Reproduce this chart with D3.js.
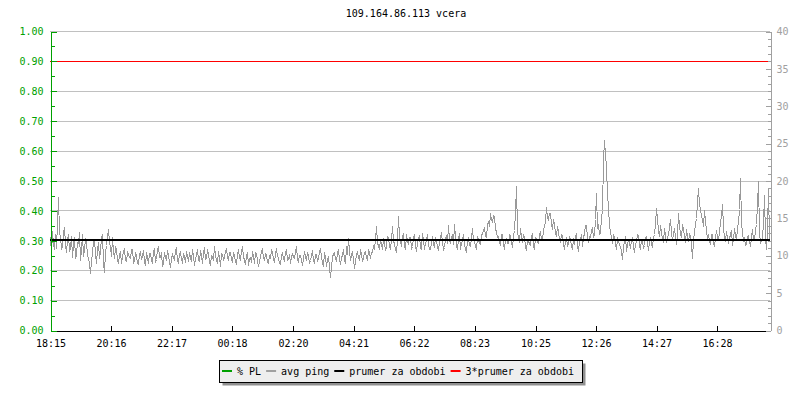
<!DOCTYPE html>
<html><head><meta charset="utf-8">
<script src="https://cdn.jsdelivr.net/npm/d3@7"></script>
<style>
body{margin:0;background:#fff}
svg text{font-family:"DejaVu Sans Mono",monospace;font-size:10px}
</style>
</head><body>
<svg id="chart" width="800" height="400"></svg>
<script>
const title = "109.164.86.113 vcera";
const timeTickMinutes = [0,121,242,363,485,606,727,848,970,1091,1212,1333];
const timeTickLabels = ["18:15","20:16","22:17","00:18","02:20","04:21","06:22","08:23","10:25","12:26","14:27","16:28"];
const totalMinutes = 1440;
const stepMinutes = 2;
const plTicks = [0,0.1,0.2,0.3,0.4,0.5,0.6,0.7,0.8,0.9,1.0];
const pingTicks = [0,5,10,15,20,25,30,35,40];
const meanPing = 12;
const tripleMeanPing = 36;
const legendLabels = ["% PL","avg ping","prumer za obdobi","3*prumer za obdobi"];
const legendColors = ["#00a000","#a0a0a0","#000000","#ff0000"];
const avgPing = [
12.5,10.2,13.2,11.6,10.8,12.9,11.0,14.4,17.8,13.1,12.6,10.9,11.2,13.0,13.8,11.5,10.4,12.2,12.9,10.6,
11.0,12.6,9.8,11.4,12.4,9.6,10.2,11.8,11.6,13.1,9.4,10.7,12.8,9.9,10.8,12.3,11.9,10.1,9.6,8.9,
7.6,9.2,10.4,11.8,12.2,10.3,9.0,10.8,11.8,9.6,10.6,12.4,12.9,9.1,7.8,10.5,11.4,12.6,13.5,11.8,
11.2,9.9,12.4,10.6,9.6,11.1,10.8,9.3,9.0,10.2,10.4,8.9,9.8,10.6,10.9,9.4,9.2,10.5,10.2,9.7,
9.6,10.9,10.8,9.1,9.4,10.3,10.1,8.9,8.8,10.2,10.6,9.5,9.9,10.7,9.2,8.7,10.4,9.8,9.0,10.3,
10.3,9.4,9.1,10.6,10.8,9.2,9.5,10.9,11.2,9.8,9.7,10.4,8.6,9.1,10.5,9.9,9.3,10.7,10.0,9.2,
8.4,9.6,10.2,9.8,9.5,10.7,11.0,9.3,9.1,10.2,10.4,9.6,8.9,10.3,9.9,9.1,10.6,9.9,9.2,10.5,
9.8,9.2,10.9,10.1,8.7,9.6,10.1,10.8,9.4,9.2,10.7,9.9,9.0,10.4,11.1,9.5,9.6,10.8,10.3,9.1,
8.8,10.1,9.9,9.4,11.3,10.2,9.4,8.9,10.6,9.8,8.6,10.3,10.2,9.5,9.7,10.6,11.0,9.9,9.3,10.4,
10.5,9.6,9.1,10.4,10.0,9.2,8.9,10.1,10.8,9.7,9.5,10.6,11.2,9.9,9.3,8.8,10.1,10.5,8.7,9.6,
9.8,9.1,10.6,9.9,9.0,10.5,10.3,9.4,8.5,9.2,9.9,10.6,10.9,9.7,9.4,10.3,10.2,9.1,8.9,10.0,
9.6,10.7,10.4,9.5,9.1,10.2,11.0,9.9,9.7,9.0,8.8,10.1,10.5,9.6,9.3,10.4,10.8,9.4,9.5,10.2,
8.9,9.7,10.3,9.8,9.6,10.5,11.2,9.5,9.2,10.1,10.0,9.3,8.7,9.6,10.6,9.9,9.4,10.4,10.1,9.0,
9.3,9.9,10.7,9.4,8.9,10.2,10.2,9.3,9.6,10.6,11.0,9.7,9.1,8.6,10.4,9.8,8.6,9.4,9.9,8.4,
7.1,8.6,9.8,10.3,10.5,9.6,9.2,10.4,10.9,9.5,8.8,9.7,10.1,10.8,9.5,8.9,11.3,10.2,12.3,10.6,
9.4,10.1,10.6,9.5,8.3,9.2,10.0,10.6,9.7,9.3,10.8,10.2,9.2,9.8,10.4,10.6,9.8,9.4,10.9,10.3,
9.6,10.4,10.5,11.2,11.0,12.1,13.9,11.6,11.4,10.8,12.2,11.5,10.9,12.3,11.8,10.7,11.2,12.6,12.4,11.3,
11.0,12.2,13.9,11.9,11.6,10.8,10.5,12.1,15.2,12.4,11.9,11.2,12.6,13.0,11.3,10.9,12.8,11.9,11.7,12.5,
12.4,11.0,11.2,12.3,12.9,11.4,10.6,11.8,12.2,12.7,11.0,10.8,13.0,12.1,10.8,11.6,12.1,12.9,11.5,10.9,
10.9,11.8,12.6,11.5,11.3,12.4,12.0,11.2,10.7,11.9,12.4,13.1,11.8,10.9,11.1,12.3,12.7,11.6,14.0,12.2,
11.6,12.4,12.8,11.5,14.2,12.6,11.4,10.9,12.3,13.0,10.9,11.7,12.1,12.8,11.7,10.8,10.6,11.9,12.5,11.4,
11.3,12.4,13.6,12.1,11.9,11.2,10.8,12.6,12.2,11.7,11.5,12.9,12.9,13.4,13.8,12.6,12.4,14.0,14.6,13.9,
15.6,14.8,14.4,15.4,15.2,13.6,13.1,12.4,12.6,11.8,11.4,12.9,12.8,11.6,10.9,12.2,12.3,11.7,11.6,12.8,
12.7,11.9,11.1,12.6,13.4,15.8,19.3,13.4,12.2,11.8,13.6,12.4,11.8,12.9,12.5,11.3,10.7,12.1,12.0,11.5,
11.4,12.6,12.8,11.2,10.9,12.5,12.3,11.8,11.7,12.9,13.2,12.1,12.0,13.5,13.9,14.6,16.5,15.1,14.8,15.6,
15.6,14.3,13.5,14.8,14.2,13.1,12.6,13.9,13.3,12.2,11.9,12.8,12.7,11.6,10.8,12.1,12.4,11.3,11.6,12.5,
12.2,11.4,10.9,12.3,11.5,12.6,12.8,11.2,10.6,11.9,12.1,12.9,11.3,12.4,13.0,14.0,14.0,12.3,11.8,12.6,
12.5,13.2,13.8,12.4,12.9,14.8,18.3,13.6,14.2,12.8,13.0,15.1,16.0,22.8,25.4,23.6,22.0,18.2,16.4,14.1,
13.2,12.4,11.6,12.9,12.4,11.5,10.8,12.3,12.1,11.4,11.3,10.6,9.5,11.2,11.9,12.6,10.6,11.4,12.2,11.7,
11.0,12.1,12.5,11.2,10.4,11.6,11.8,12.9,12.7,11.3,10.9,12.2,12.0,11.0,11.4,12.4,12.6,11.8,10.7,11.9,
12.3,11.6,11.1,12.4,12.9,14.2,16.3,14.8,13.4,12.6,14.1,13.2,12.2,11.9,13.6,12.8,11.8,12.5,12.9,13.8,
14.9,13.1,12.1,12.8,13.7,12.6,11.5,12.9,15.6,14.1,13.0,12.4,14.2,13.6,12.4,11.8,13.5,12.7,11.9,12.8,
12.6,11.4,9.6,12.2,13.1,14.2,15.0,17.2,19.0,16.8,16.2,15.4,14.8,13.9,16.0,14.6,13.4,12.2,12.8,11.9,
11.7,12.8,12.9,11.6,11.2,12.4,13.4,12.6,12.0,13.1,14.6,15.3,16.9,13.8,12.5,11.9,13.3,12.4,11.6,12.3,
12.8,13.4,11.4,12.2,13.6,12.9,12.1,13.8,14.4,16.2,20.3,14.6,13.0,12.1,12.3,11.4,11.5,12.6,12.7,11.9,
11.2,12.4,13.5,12.1,12.0,13.4,14.2,16.8,20.0,13.1,11.6,12.2,12.3,14.5,18.0,12.4,10.9,13.6,19.0,12.1
];

const svg = d3.select("#chart");
const L = 50, R = 770, T = 31, B = 330;
const x = d3.scaleLinear().domain([0, totalMinutes]).range([L, R]);
const yL = d3.scaleLinear().domain([0, 1]).range([B, T]);
const yR = d3.scaleLinear().domain([0, 40]).range([B, T]);
const px = v => Math.round(v) + 0.5;
const green = "#00a000", gray = "#a0a0a0";

svg.append("text").attr("x", 406).attr("y", 17).attr("text-anchor", "middle")
  .attr("fill", "#000").text(title);

// grid
svg.append("g").selectAll("line").data(plTicks.filter(d => d > 0 && d < 0.85 || d > 0.95)).join("line")
  .attr("x1", L).attr("x2", R).attr("y1", d => px(yL(d))).attr("y2", d => px(yL(d)))
  .attr("stroke", "#c0c0c0").attr("stroke-width", 1).attr("shape-rendering", "crispEdges");

// 3*mean
svg.append("line").attr("x1", L).attr("x2", R)
  .attr("y1", px(yR(tripleMeanPing))).attr("y2", px(yR(tripleMeanPing)))
  .attr("stroke", "#ff0000").attr("stroke-width", 1).attr("shape-rendering", "crispEdges");

// avg ping
const line = d3.line().x((d, i) => Math.round(x(i * stepMinutes)) + 0.5)
  .y(d => Math.round(yR(d)) + 0.5);
svg.append("path").datum(avgPing).attr("d", line)
  .attr("fill", "none").attr("stroke", "#999999").attr("stroke-width", 1)
  .attr("shape-rendering", "crispEdges");

// mean
svg.append("line").attr("x1", L).attr("x2", R)
  .attr("y1", Math.round(yR(meanPing))).attr("y2", Math.round(yR(meanPing)))
  .attr("stroke", "#000").attr("stroke-width", 2).attr("shape-rendering", "crispEdges");

function style(g, col, textCol) {
  g.attr("shape-rendering", "crispEdges");
  g.selectAll("path.domain").attr("stroke", col);
  g.selectAll("line").attr("stroke", col);
  g.selectAll("text").attr("fill", textCol).style("font-family", '"DejaVu Sans Mono",monospace').style("font-size", "10px");
}
const xs = d3.scaleLinear().domain([0, totalMinutes]).range([L + 0.5, R + 0.5]);
const yLs = d3.scaleLinear().domain([0, 1]).range([B + 0.5, T + 0.5]);
const yRs = d3.scaleLinear().domain([0, 40]).range([B + 0.5, T + 0.5]);

// bottom axis
const gx = svg.append("g").attr("transform", `translate(0,${B + 0.5})`)
  .call(d3.axisBottom(xs).tickValues(timeTickMinutes)
    .tickFormat((d, i) => timeTickLabels[i]).tickSize(-5).tickSizeOuter(0).tickPadding(9));
style(gx, "#000", "#000");

// right axis
const gr2 = svg.append("g").attr("transform", `translate(${R + 0.5},0)`)
  .call(d3.axisRight(yRs).tickValues(d3.range(0, 41, 1)).tickSize(-3).tickSizeOuter(0).tickFormat(""));
style(gr2, gray, gray);
gr2.select("path.domain").remove();
const gr = svg.append("g").attr("transform", `translate(${R + 0.5},0)`)
  .call(d3.axisRight(yRs).tickValues(pingTicks).tickSize(-5).tickSizeOuter(0).tickPadding(6));
style(gr, gray, gray);

// left axis
const gl2 = svg.append("g").attr("transform", `translate(${L + 0.5},0)`)
  .call(d3.axisLeft(yLs).tickValues(d3.range(0.05, 1, 0.1)).tickSize(-4).tickSizeOuter(0).tickFormat(""));
style(gl2, green, green);
gl2.select("path.domain").remove();
const gl = svg.append("g").attr("transform", `translate(${L + 0.5},0)`)
  .call(d3.axisLeft(yLs).tickValues(plTicks).tickSize(-6).tickSizeOuter(0)
    .tickPadding(7).tickFormat(d3.format(".2f")));
style(gl, green, green);

// legend
const lg = svg.append("g");
const shadow = lg.append("rect").attr("fill", "#909090");
const box = lg.append("rect").attr("fill", "#eeeeee").attr("stroke", "#000").attr("stroke-width", 1);
let cx = 222;
legendLabels.forEach((lab, i) => {
  lg.append("line").attr("x1", cx).attr("x2", cx + 10).attr("y1", 371).attr("y2", 371)
    .attr("stroke", legendColors[i]).attr("stroke-width", 2);
  const t = lg.append("text").attr("x", cx + 15).attr("y", 375).attr("fill", "#000").text(lab);
  cx = cx + 15 + t.node().getComputedTextLength() + 5;
});
const bx = 219.5, by = 360.5, bw = Math.round(cx + 3 - 219), bh = 22;
box.attr("x", bx).attr("y", by).attr("width", bw).attr("height", bh);
shadow.attr("x", bx + 3).attr("y", by + 3).attr("width", bw).attr("height", bh);
</script>
</body></html>
